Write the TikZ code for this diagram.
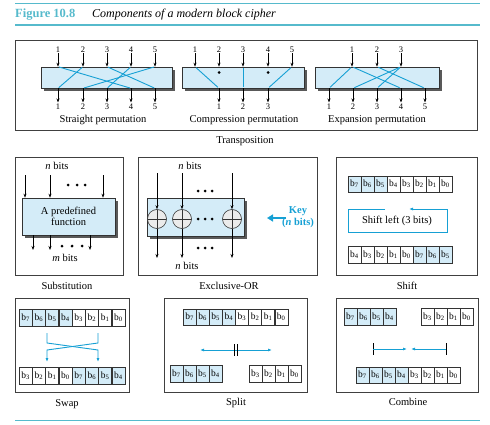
\documentclass[tikz,border=0pt]{standalone}
\usepackage{fontspec}
\setmainfont{Liberation Serif}
\usetikzlibrary{arrows.meta,backgrounds}
\definecolor{teal1}{RGB}{86,186,204}
\definecolor{lblue}{RGB}{212,236,248}
\definecolor{lineblue}{RGB}{22,160,212}
\newcommand\bitrow[5]{%
  \foreach \d/\bl [count=\i from 0] in {#5} {
    \node[cell, c\bl] (#1\i) at ({#2+#3*(\i+0.5)},#4) {b\textsubscript{\d}};
  }}
\newcommand\shadowof[1]{%
  \begin{pgfonlayer}{background}
    \fill[black!65] ([shift={(3,3)}]#1.north west) rectangle ([shift={(3,3)}]#1.south east);
  \end{pgfonlayer}}
\begin{document}
\begin{tikzpicture}[x=1pt,y=-1pt,
  frame/.style={draw=black!75, line width=0.9pt, inner sep=0pt},
  perm/.style={draw=black!80, fill=lblue, line width=0.6pt, inner sep=0pt},
  arr/.style={-{Stealth[length=4pt,width=3pt]}, line width=0.6pt},
  bl/.style={lineblue, line width=0.9pt},
  bla/.style={lineblue, line width=0.8pt, -{Latex[length=4pt,width=3pt]}},
  num/.style={font=\fontsize{8.5}{9}\selectfont, inner sep=0pt},
  captxt/.style={font=\fontsize{10.5}{12}\selectfont, inner sep=0pt},
  cell/.style={draw=black!80, line width=0.5pt, minimum width=13pt, minimum height=16.5pt, inner sep=0pt, font=\fontsize{9.5}{10}\selectfont},
  c1/.style={fill=lblue}, c0/.style={fill=white},
  xorc/.style={circle, draw=black!80, fill=black!8, line width=0.6pt, minimum size=19pt, inner sep=0pt,
    path picture={\draw[line width=0.5pt] (path picture bounding box.north) -- (path picture bounding box.south)
      (path picture bounding box.west) -- (path picture bounding box.east);}},
  dot/.style={circle, fill=black, inner sep=0pt, minimum size=3pt}
]
\useasboundingbox (0,0) rectangle (490,425);

% header
\draw[teal1, line width=0.8pt] (15,3) -- (480,3);
\node[anchor=west, inner sep=0pt, text=teal1, font=\fontsize{12.5}{14}\selectfont\bfseries] (fig) at (15,15) {Figure 10.8};
\node[anchor=west, inner sep=0pt, font=\fontsize{12}{14}\selectfont\itshape] (ttl) at (92,15) {Components of a modern block cipher};
\draw[teal1, line width=2.5pt] (15,25) -- (480,25);

% ---------- Transposition ----------
\node[frame, minimum width=462pt, minimum height=90pt] (tr) at (246,85) {};
\node[captxt] (trc) at (245,141) {Transposition};

% straight
\node[perm, minimum width=131pt, minimum height=21pt] (sp) at (106.5,77.5) {};
\shadowof{sp}
\foreach \x [count=\i] in {58,83,107,131,155} {
  \node[num] (si\i) at (\x,50) {\i};
  \node[num] (so\i) at (\x,107) {\i};
  \draw[arr] (si\i.south) -- (si\i |- sp.north);
  \draw[arr] (so\i |- sp.south) -- ([yshift=1.5pt]so\i.north);
}
\foreach \a/\b in {1/4,2/1,3/5,4/3,5/2}
  \draw[bl, shorten <=1pt, shorten >=1pt] (si\a |- sp.north) -- (so\b |- sp.south);
\node[captxt] (spc) at (103,120) {Straight permutation};

% compression
\node[perm, minimum width=122pt, minimum height=21pt] (cp) at (243,77.5) {};
\shadowof{cp}
\foreach \x [count=\i] in {195,219,243,268,292} {
  \node[num] (ci\i) at (\x,50) {\i};
  \draw[arr] (ci\i.south) -- (ci\i |- cp.north);
}
\foreach \x [count=\i] in {219,243,268} {
  \node[num] (co\i) at (\x,107) {\i};
  \draw[arr] (co\i |- cp.south) -- ([yshift=1.5pt]co\i.north);
}
\node[dot] (cd2) at (219,72.5) {};
\node[dot] (cd4) at (268,72.5) {};
\foreach \a/\b in {1/1,3/2,5/3}
  \draw[bl, shorten <=1.5pt, shorten >=1.5pt] (ci\a |- cp.north) -- (co\b |- cp.south);
\node[captxt] (cpc) at (244,120) {Compression permutation};

% expansion
\node[perm, minimum width=124pt, minimum height=21pt] (ep) at (377,77.5) {};
\shadowof{ep}
\foreach \x [count=\i] in {352,377,401} {
  \node[num] (ei\i) at (\x,50) {\i};
  \draw[arr] (ei\i.south) -- (ei\i |- ep.north);
}
\foreach \x [count=\i] in {329,353,377,401,425} {
  \node[num] (eo\i) at (\x,107) {\i};
  \draw[arr] (eo\i |- ep.south) -- ([yshift=1.5pt]eo\i.north);
}
\foreach \a/\b in {1/1,1/4,2/5,3/2,3/3}
  \draw[bl, shorten <=1.5pt, shorten >=1.5pt] (ei\a |- ep.north) -- (eo\b |- ep.south);
\node[captxt] (epc) at (377,120) {Expansion permutation};

% ---------- Substitution ----------
\node[frame, minimum width=108pt, minimum height=118pt] (sub) at (69,216) {};
\node[captxt] (subc) at (67,286) {Substitution};
\node[perm, minimum width=93pt, minimum height=37pt, align=center, font=\fontsize{10.5}{11.5}\selectfont] (fn) at (68.5,216.5) {A predefined\\function};
\shadowof{fn}
\node[captxt] (snb) at (57,166) {\textit{n} bits};
\node[captxt] (smb) at (65,258) {\textit{m} bits};
\foreach \x [count=\i] in {25,50,103} {
  \coordinate (sa\i) at (\x,175);
  \draw[arr] (sa\i) -- (sa\i |- fn.north);
}
\foreach \x [count=\i] in {33,50,90} {
  \coordinate (sb\i) at (\x,250);
  \draw[arr] (sb\i |- fn.south) -- (sb\i);
}
\foreach \x in {68,77,85} \node[dot] at (\x,185) {};
\foreach \x in {62,72,82} \node[dot] at (\x,246) {};

% ---------- Exclusive-OR ----------
\node[frame, minimum width=179pt, minimum height=118pt] (xo) at (227.5,216) {};
\node[captxt] (xoc) at (229,286) {Exclusive-OR};
\node[perm, minimum width=97pt, minimum height=38pt] (xb) at (195.5,217) {};
\shadowof{xb}
\node[captxt] (xnt) at (190,166) {\textit{n} bits};
\node[captxt] (xnb) at (187,266) {\textit{n} bits};
\foreach \x [count=\i] in {157,182,232} {
  \node[xorc] (x\i) at (\x,219) {};
  \coordinate (xa\i) at (\x,173);
  \coordinate (xz\i) at (\x,258);
  \draw[arr] (xa\i) -- (x\i.north);
  \draw[arr] (x\i.south) -- (xz\i);
}
\foreach \x in {198,205,212} {
  \node[dot] at (\x,191) {};
  \node[dot] at (\x,219) {};
  \node[dot] at (\x,248) {};
}
\node[inner sep=0pt, align=center, text=lineblue, font=\fontsize{10.5}{11.5}\selectfont\bfseries] (key) at (298,217) {Key\\(\textit{n} bits)};
\coordinate (kt) at (267,218);
\coordinate (ks) at (286,218);
\draw[lineblue, line width=2pt, -{Triangle[length=6pt,width=7pt]}] (ks) -- (kt);

% ---------- Shift ----------
\node[frame, minimum width=141pt, minimum height=118pt] (shf) at (406.5,216) {};
\node[captxt] (shc) at (407,286) {Shift};
\bitrow{st}{348}{13}{184}{7/1,6/1,5/1,4/0,3/0,2/0,1/0,0/0}
\bitrow{sbr}{348}{13}{254.5}{4/0,3/0,2/0,1/0,0/0,7/1,6/1,5/1}
\node[captxt] (shl) at (397,221) {Shift left (3 bits)};
\coordinate (s1) at (385,209);
\coordinate (s2) at (348,232);
\coordinate (s3) at (447,209);
\coordinate (s4) at (409,209);
\draw[bla, line width=0.9pt] (s1) -| (s2) -| (s3) -- (s4);

% ---------- Swap ----------
\node[frame, minimum width=114pt, minimum height=94pt] (swp) at (72,345) {};
\node[captxt] (swc) at (67,404) {Swap};
\bitrow{wt}{19}{13.25}{317.5}{7/1,6/1,5/1,4/1,3/0,2/0,1/0,0/0}
\bitrow{wb}{19}{13.25}{375.5}{3/0,2/0,1/0,0/0,7/1,6/1,5/1,4/1}
\coordinate (wa) at (47,333);
\coordinate (wb) at (98,333);
\coordinate (wc) at (47,362);
\coordinate (wd) at (98,362);
\draw[bla, line width=0.9pt] (wa) -- (47,343) -- (98,350) -- (wd);
\draw[bla, line width=0.9pt] (wb) -- (98,343) -- (47,350) -- (wc);

% ---------- Split ----------
\node[frame, minimum width=143pt, minimum height=94pt] (spl) at (235.5,345) {};
\node[captxt] (splc) at (236,403) {Split};
\bitrow{pt}{183}{13.1}{317}{7/1,6/1,5/1,4/1,3/0,2/0,1/0,0/0}
\bitrow{pl}{170}{13}{373.5}{7/1,6/1,5/1,4/1}
\bitrow{pr}{249}{13}{373.5}{3/0,2/0,1/0,0/0}
\coordinate (pa) at (200,350);
\coordinate (pb) at (272,350);
\draw[lineblue, line width=0.8pt, {Latex[length=4pt,width=3pt]}-{Latex[length=4pt,width=3pt]}] (pa) -- (pb);
\draw[line width=0.8pt] (234.5,344) -- (234.5,356) (237.5,344) -- (237.5,356);

% ---------- Combine ----------
\node[frame, minimum width=142pt, minimum height=94pt] (cmb) at (407,345) {};
\node[captxt] (cmbc) at (408,402) {Combine};
\bitrow{ml}{344}{13}{316.5}{7/1,6/1,5/1,4/1}
\bitrow{mr}{421}{13}{316.5}{3/0,2/0,1/0,0/0}
\bitrow{mb}{356}{13}{375}{7/1,6/1,5/1,4/1,3/0,2/0,1/0,0/0}
\coordinate (ma) at (373,349);
\coordinate (mb) at (446,349);
\coordinate (mc) at (407,349);
\coordinate (md) at (411,349);
\draw[line width=0.8pt] ([yshift=6pt]ma) -- ([yshift=-6pt]ma) ([yshift=6pt]mb) -- ([yshift=-6pt]mb);
\draw[bla] (ma) -- (mc);
\draw[bla] (mb) -- (md);

% bottom rule
\draw[teal1, line width=0.8pt] (15,420) -- (480,420);
\end{tikzpicture}
\end{document}
